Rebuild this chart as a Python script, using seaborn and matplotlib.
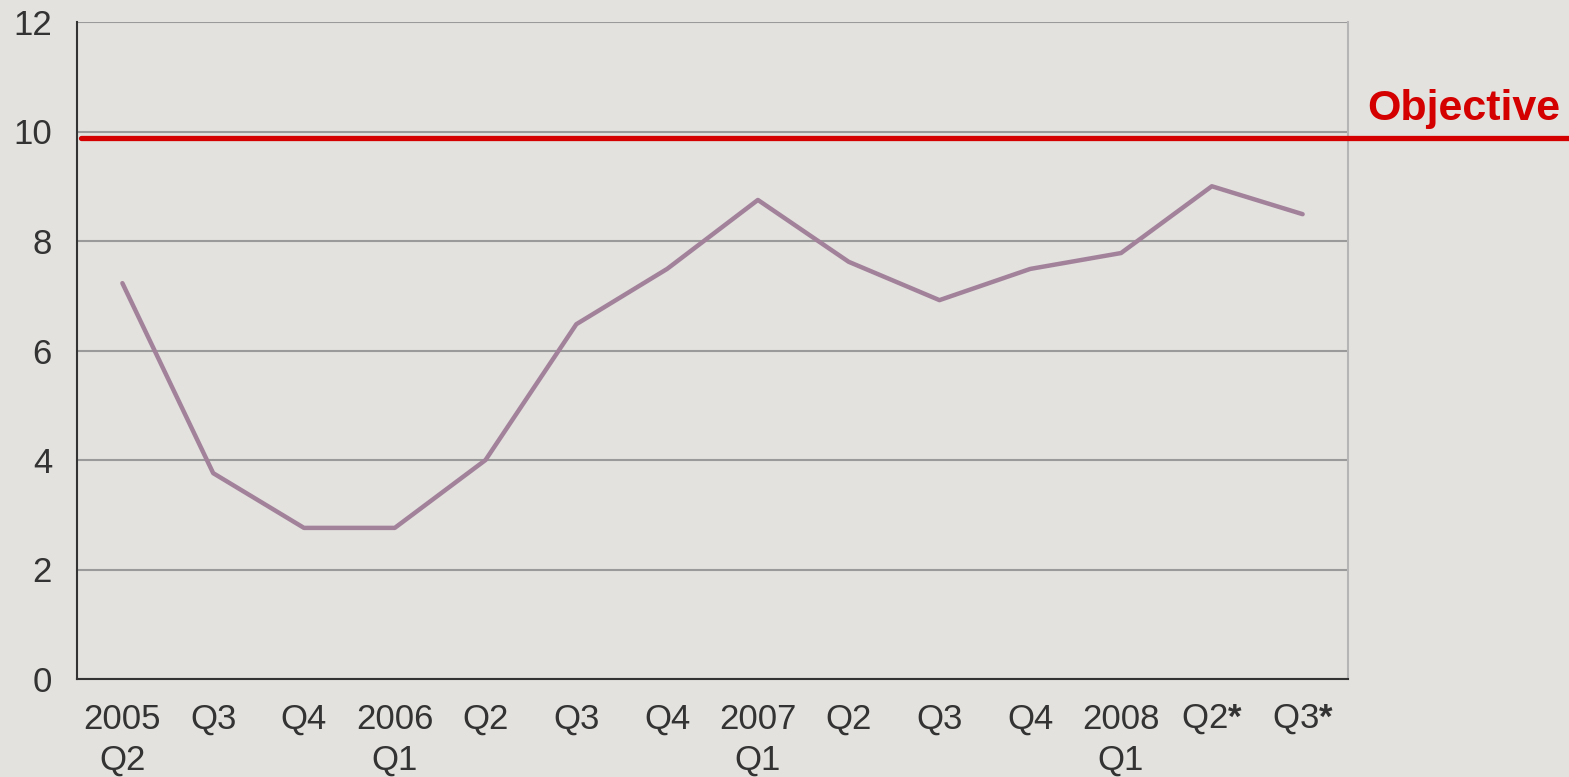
import matplotlib
matplotlib.use("Agg")
import matplotlib.pyplot as plt
import seaborn as sns
import pandas as pd
import numpy as np

categories = ["2005\nQ2", "Q3", "Q4", "2006\nQ1", "Q2", "Q3", "Q4",
              "2007\nQ1", "Q2", "Q3", "Q4", "2008\nQ1", r"Q2$\mathbf{*}$", r"Q3$\mathbf{*}$"]
values = [7.23, 3.76, 2.76, 2.76, 4.0, 6.48, 7.49, 8.75, 7.62, 6.92, 7.49, 7.78, 9.0, 8.49]
objective = 9.88
y_ticks = [0, 2, 4, 6, 8, 10, 12]

bg = "#E3E2DE"
sns.set_theme(style="white")
plt.rcParams['font.family'] = ['Liberation Sans', 'DejaVu Sans']
plt.rcParams['mathtext.fontset'] = 'custom'
plt.rcParams['mathtext.rm'] = 'Liberation Sans'
plt.rcParams['mathtext.bf'] = 'Liberation Sans:bold'

fig = plt.figure(figsize=(15.69, 7.77), dpi=100, facecolor=bg)
ax = fig.add_axes([77/1569, 1-679/777, (1348-77)/1569, (679-22)/777])
ax.set_facecolor(bg)

df = pd.DataFrame({"pos": np.arange(len(values)), "value": values})
sns.lineplot(data=df, x="pos", y="value", ax=ax, color="#A2819B", linewidth=3.2)

ax.set_xlim(-0.5, len(values) - 0.5)
ax.set_ylim(0, 12)
ax.set_yticks(y_ticks)
ax.set_yticklabels([str(t) for t in y_ticks], fontsize=25, color="#333333")
ax.set_xticks(np.arange(len(values)))
ax.set_xticklabels(categories, fontsize=25, color="#333333", linespacing=1.32,
                   va="top")
ax.set_xticks(np.arange(len(values) + 1) - 0.5, minor=True)
ax.tick_params(axis="x", which="major", length=0, pad=17)
ax.tick_params(axis="x", which="minor", length=10, width=1.5, color="#333333", direction="out")
ax.tick_params(axis="y", length=10, width=1.5, color="#333333", direction="out", pad=8)
ax.set_xlabel("")
ax.set_ylabel("")

ax.grid(axis="y", color="#9A9A9A", linewidth=1.5)
ax.set_axisbelow(True)
for s in ["left", "bottom"]:
    ax.spines[s].set_color("#333333")
    ax.spines[s].set_linewidth(1.5)
ax.spines["top"].set_visible(False)
ax.spines["right"].set_color("#B5B5B5")
ax.spines["right"].set_linewidth(1.5)

ax.axhline(objective, xmin=0.003, xmax=(1569-77)/(1348-77), color="#D40000",
           linewidth=3.8, clip_on=False, zorder=5)
ax.text(1.0155, 10.42, "Objective", transform=ax.get_yaxis_transform(),
        fontsize=31, fontweight="bold", color="#D40000", ha="left", va="center",
        clip_on=False)

fig.savefig("out.png", dpi=100, facecolor=bg)
